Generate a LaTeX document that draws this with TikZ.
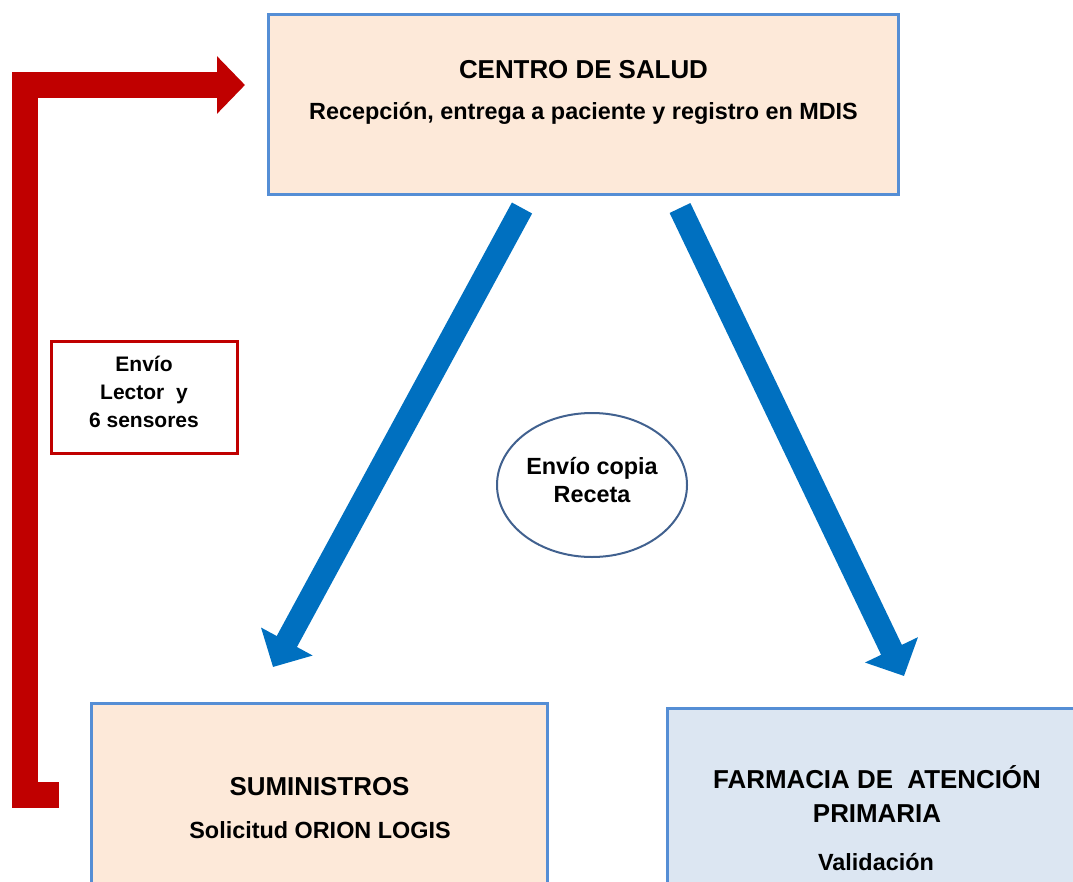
\documentclass[tikz,border=0pt]{standalone}
\usepackage{fontspec}
\setmainfont{Liberation Sans}
\usetikzlibrary{arrows.meta,shapes.geometric}
\definecolor{peach}{HTML}{FDE9D9}
\definecolor{paleblue}{HTML}{DCE6F2}
\definecolor{boxblue}{HTML}{558ED5}
\definecolor{darkred}{HTML}{C00000}
\definecolor{arrowblue}{HTML}{0070C0}
\definecolor{ellblue}{HTML}{41618F}
\tikzset{
  box/.style={draw=boxblue, line width=3pt, rectangle, inner sep=0pt},
  titletext/.style={font=\bfseries\fontsize{25.9}{34}\selectfont, align=center, inner sep=0pt},
  subtext/.style={font=\bfseries\fontsize{23.4}{28}\selectfont, align=center, inner sep=0pt},
  redtext/.style={font=\bfseries\fontsize{21}{28}\selectfont, align=center, inner sep=0pt},
  bluearrow/.style={draw=arrowblue, line width=23pt, line cap=butt, -{Triangle[length=29pt,width=57pt]}},
  redarrow/.style={draw=darkred, line width=26pt, line join=miter, line cap=butt, -{Triangle[length=28pt,width=56pt]}}
}
\begin{document}
\begin{tikzpicture}[x=1pt,y=-1pt]
\useasboundingbox (0,0) rectangle (1073,881);
\clip (0,0) rectangle (1073,881);
% boxes
\node[box, fill=peach, minimum width=630pt, minimum height=180pt] (salud) at (583,104) {};
\node[box, fill=peach, minimum width=456pt, minimum height=217pt] (sumin) at (319,811.5) {};
\node[box, fill=paleblue, minimum width=423pt, minimum height=212pt] (farm) at (878.5,814) {};
\node[draw=darkred, line width=3pt, rectangle, minimum width=186pt, minimum height=112pt, inner sep=0pt] (envio) at (144,397) {};
\node[draw=ellblue, line width=2pt, ellipse, minimum width=190pt, minimum height=144pt, inner sep=0pt] (copia) at (592,485) {};
% texts
\node[titletext] (saludt) at (583.5,70) {CENTRO DE SALUD};
\node[subtext] (saluds) at (583.5,113) {Recepción, entrega a paciente y registro en MDIS};
\node[titletext] (smt) at (319.5,787) {SUMINISTROS};
\node[subtext] (sms) at (320,830) {Solicitud ORION LOGIS};
\node[titletext] (fmt) at (877,794) {FARMACIA DE\ \ ATENCIÓN\\PRIMARIA};
\node[subtext] (fms) at (876,862) {Validación};
\node[redtext] (envt) at (144,392) {Envío\\Lector\ \ y\\6 sensores};
\node[subtext] (copt) at (592,480) {Envío copia\\Receta};
% connectors
\coordinate (la) at (522,208);
\coordinate (lb) at (273,667);
\coordinate (ra) at (680,208);
\coordinate (rb) at (904,676);
\draw[bluearrow] (la) -- (lb);
\draw[bluearrow] (ra) -- (rb);
\coordinate (rs) at (59,794.5);
\coordinate (rc) at (24.5,85);
\coordinate (re) at (245,85);
\draw[redarrow] (rs) -| (rc) -- (re);
\end{tikzpicture}
\end{document}
